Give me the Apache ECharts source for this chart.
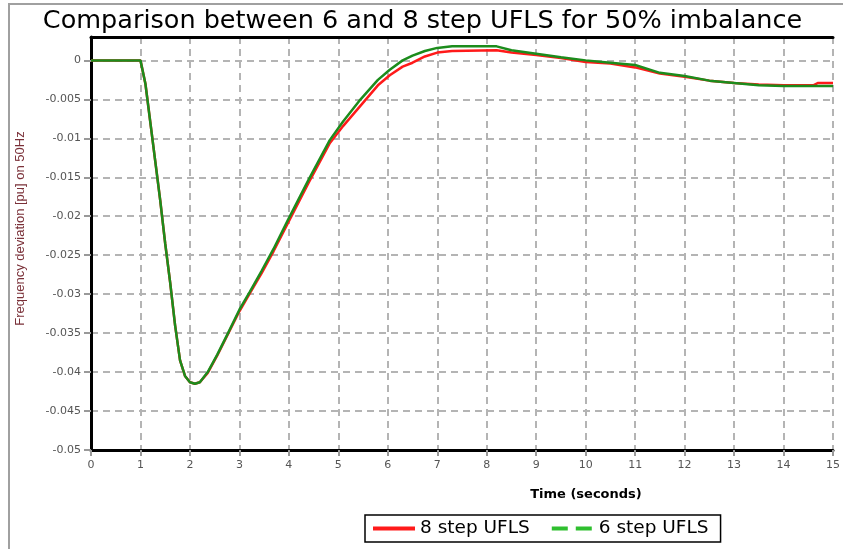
<!DOCTYPE html>
<html>
<head>
<meta charset="utf-8">
<script src="https://cdn.jsdelivr.net/npm/echarts@6/dist/echarts.min.js"></script>
<style>
  html, body { margin: 0; padding: 0; background: #fff; }
  #chart { width: 845px; height: 549px; }
</style>
</head>
<body>
<div id="chart"></div>
<script>
// time in seconds, shared by both series
const times = [0, 1, 1.1, 1.2, 1.3, 1.4, 1.5, 1.6, 1.7, 1.8, 1.9, 2.0, 2.1, 2.2, 2.36, 2.55, 2.77, 3.0, 3.21, 3.45, 3.69, 3.98, 4.4, 4.83, 5.1, 5.45, 5.8, 6.04, 6.3, 6.5, 6.75, 7.0, 7.3, 8.2, 8.5, 9.0, 9.5, 10, 10.5, 11, 11.5, 12, 12.5, 13, 13.5, 14, 14.6, 14.7, 15]

const freq8Step = [0, 0, -0.003, -0.008, -0.013, -0.018, -0.0235, -0.0285, -0.034, -0.0385, -0.0405, -0.0413, -0.0415, -0.0413, -0.0401, -0.0379, -0.0351, -0.0322, -0.0299, -0.0273, -0.0245, -0.0209, -0.0157, -0.0106, -0.0084, -0.0058, -0.0032, -0.0019, -0.0008, -0.0003, 0.0005, 0.001, 0.0012, 0.0013, 0.001, 0.0007, 0.0003, -0.0002, -0.0004, -0.0009, -0.0017, -0.0021, -0.0026, -0.0029, -0.0031, -0.0032, -0.0032, -0.0029, -0.0029]

const freq6Step = [0, 0, -0.003, -0.008, -0.013, -0.018, -0.0235, -0.0285, -0.034, -0.0385, -0.0405, -0.0413, -0.0415, -0.0413, -0.04, -0.0378, -0.035, -0.032, -0.0297, -0.027, -0.0242, -0.0205, -0.0153, -0.0102, -0.0078, -0.005, -0.0025, -0.0012, 0, 0.0006, 0.0012, 0.0016, 0.0018, 0.0018, 0.0013, 0.00085, 0.0004, 0, -0.0003, -0.0006, -0.0016, -0.002, -0.0026, -0.0029, -0.0032, -0.0033, -0.0033, -0.0033, -0.0033]

const seriesNames = ['8 step UFLS', '6 step UFLS']

const chart = echarts.init(document.getElementById('chart'))

const gridLine = { show: true, lineStyle: { color: '#b4b4b4', width: 2, type: [7, 5] } }
const tickFont = { fontFamily: 'DejaVu Sans', fontSize: 11, color: '#555' }

chart.setOption({
  animation: false,
  title: {
    text: 'Comparison between 6 and 8 step UFLS for 50% imbalance',
    left: 'center',
    top: 3,
    textStyle: { fontFamily: 'DejaVu Sans', fontSize: 25.5, fontWeight: 'normal', color: '#000' },
  },
  graphic: [
    {
      type: 'polyline',
      shape: { points: [[9, 549], [9, 4], [843, 4]] },
      style: { stroke: '#a0a0a0', lineWidth: 2, fill: null },
      silent: true,
    },
  ],
  legend: {
    left: 365,
    top: 515,
    padding: [4, 12, 4, 6],
    borderColor: '#000',
    borderWidth: 1.5,
    itemWidth: 42,
    itemHeight: 14,
    itemGap: 20,
    textStyle: { fontFamily: 'DejaVu Sans', fontSize: 18.5, color: '#000' },
    data: [
      { name: seriesNames[0], itemStyle: { opacity: 0 }, lineStyle: { width: 4 } },
      { name: seriesNames[1], itemStyle: { opacity: 0 }, lineStyle: { width: 4, type: 'dashed', color: '#2fbf2f' } },
    ],
  },
  grid: { left: 91, right: 12, top: 37, bottom: 99 },
  xAxis: [
    {
      type: 'value',
      min: 0,
      max: 15,
      interval: 1,
      name: 'Time (seconds)',
      nameLocation: 'middle',
      nameGap: 38,
      nameTextStyle: {
        fontFamily: 'DejaVu Sans', fontSize: 13, fontWeight: 'bold', color: '#000',
        padding: [0, 0, 0, 248],
      },
      axisLine: { show: true, onZero: false, lineStyle: { color: '#000', width: 3 } },
      axisTick: { show: true, length: 6, inside: false, lineStyle: { color: '#999', width: 2 } },
      axisLabel: Object.assign({ margin: 10 }, tickFont),
      splitLine: gridLine,
    },
    {
      type: 'value',
      position: 'top',
      min: 0,
      max: 15,
      interval: 1,
      axisLine: { show: true, onZero: false, lineStyle: { color: '#000', width: 3 } },
      axisTick: { show: false },
      axisLabel: { show: false },
      splitLine: { show: false },
    },
  ],
  yAxis: {
    type: 'value',
    min: -0.05,
    max: 0.003,
    interval: 0.005,
    name: 'Frequency deviation [pu] on 50Hz',
    nameLocation: 'middle',
    nameGap: 64,
    nameTextStyle: {
      fontFamily: 'Liberation Sans', fontSize: 13, color: '#7a3038',
      padding: [0, 0, 0, 30],
    },
    axisLine: { show: true, onZero: false, lineStyle: { color: '#000', width: 3 } },
    axisTick: { show: true, length: 7, lineStyle: { color: '#999', width: 2 } },
    axisLabel: Object.assign({
      margin: 10,
      showMaxLabel: false,
      formatter: (v) => (Math.abs(v) < 1e-9 ? '0' : String(+v.toFixed(3))),
    }, tickFont),
    splitLine: gridLine,
  },
  series: [
    {
      name: seriesNames[0],
      type: 'line',
      data: times.map((t, i) => [t, freq8Step[i]]),
      showSymbol: false,
      symbol: 'none',
      lineStyle: { color: '#ff1a1a', width: 2.5 },
      itemStyle: { color: '#ff1a1a' },
      z: 3,
    },
    {
      name: seriesNames[1],
      type: 'line',
      data: times.map((t, i) => [t, freq6Step[i]]),
      showSymbol: false,
      symbol: 'none',
      lineStyle: { color: '#1c8c1c', width: 2.5 },
      itemStyle: { color: '#1c8c1c' },
      z: 4,
    },
  ],
})
</script>
</body>
</html>
